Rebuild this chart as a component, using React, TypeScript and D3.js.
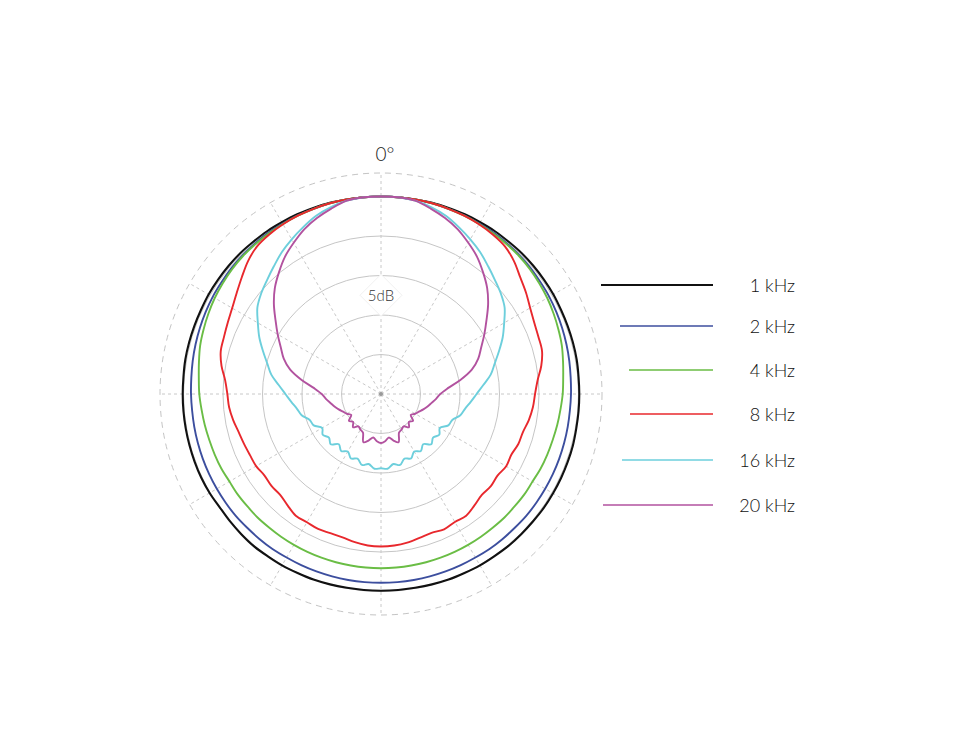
import React from "react";
import * as d3 from "d3";

// ---------- data ----------
// Angles in degrees, clockwise from 0° (front, top), every 5°
const ANGLES: number[] = d3.range(0, 360, 5);

// Level in dB relative to 0° (0 dB = outer solid ring), one value per angle
const SERIES_NAMES = ["1 kHz", "2 kHz", "4 kHz", "8 kHz", "16 kHz", "20 kHz"];

const DB_1K = [
  0, 0, 0, 0.05, 0.05, 0.1, 0.1, 0.15, 0.15, 0.2, 0.2, 0.2, 0.2, 0.15, 0.15, 0.15, 0.15, 0.1, 0.1,
  0.1, 0.1, 0.15, 0.15, 0.15, 0.15, 0.15, 0.1, 0.1, 0.1, 0.05, 0.05, 0, 0, -0.05, -0.1, -0.1, -0.1,
  -0.1, -0.1, -0.05, 0, 0, 0.05, 0.05, 0.1, 0.05, 0, -0.05, 0.05, 0.1, 0.1, 0.1, 0.1, 0.1, 0.1,
  0.1, 0.15, 0.15, 0.15, 0.15, 0.2, 0.2, 0.2, 0.2, 0.15, 0.15, 0.1, 0.1, 0.05, 0.05, 0, 0,
];
const DB_2K = [
  0, 0, 0, 0, -0.05, -0.05, -0.1, -0.1, -0.15, -0.2, -0.25, -0.35, -0.4, -0.5, -0.6, -0.7, -0.8, -0.9, -0.95,
  -1.0, -1.0, -1.0, -1.0, -1.0, -1.0, -1.0, -1.0, -1.05, -1.05, -1.05, -1.1, -1.1, -1.1, -1.1, -1.1, -1.1, -1.1,
  -1.1, -1.1, -1.1, -1.1, -1.1, -1.1, -1.05, -1.05, -1.05, -1.0, -1.0, -1.0, -1.0, -1.0, -1.0, -1.0, -1.0,
  -0.95, -0.9, -0.8, -0.7, -0.6, -0.5, -0.4, -0.35, -0.25, -0.2, -0.15, -0.1, -0.1, -0.05, -0.05, 0, 0, 0,
];
const DB_4K = [
  0, 0, 0, 0, -0.05, -0.1, -0.15, -0.2, -0.25, -0.3, -0.4, -0.55, -0.7, -0.9, -1.1, -1.3, -1.6, -1.85, -2.0,
  -2.2, -2.35, -2.5, -2.6, -2.7, -2.85, -2.85, -2.9, -2.9, -2.95, -2.95, -2.95, -2.95, -2.95, -2.95, -2.95, -2.95, -2.95,
  -2.95, -2.95, -2.95, -2.95, -2.95, -2.95, -2.95, -2.95, -2.9, -2.9, -2.85, -2.85, -2.7, -2.6, -2.5, -2.35, -2.2,
  -2.0, -1.85, -1.6, -1.3, -1.1, -0.9, -0.7, -0.55, -0.4, -0.3, -0.25, -0.2, -0.15, -0.1, -0.05, 0, 0, 0,
];
const DB_8K = [
  0, 0, 0, 0, -0.05, -0.1, -0.2, -0.35, -0.6, -1.2, -2.0, -2.6, -3.2, -3.6, -3.8, -3.9, -4.4, -5.1, -5.5,
  -5.7, -6.0, -6.4, -6.5, -6.8, -6.7, -7.0, -6.85, -6.95, -6.6, -6.2, -6.3, -6.1, -6.3, -6.15, -5.9, -5.75, -5.7,
  -5.75, -5.95, -6.2, -6.25, -6.15, -6.25, -6.2, -6.6, -6.95, -6.9, -7.0, -6.75, -6.7, -6.55, -6.35, -6.0, -5.7,
  -5.55, -5.2, -4.5, -4.0, -3.85, -3.6, -3.25, -2.7, -2.0, -1.2, -0.6, -0.35, -0.2, -0.1, -0.05, 0, 0, 0,
];
const DB_16K = [
  0, 0, -0.15, -0.5, -1.0, -1.7, -2.4, -3.1, -3.9, -4.6, -5.2, -5.9, -7.0, -8.0, -9.1, -10.1, -10.9, -12.0, -12.9,
  -13.6, -14.2, -14.6, -15.4, -15.6, -16.4, -16.0, -16.4, -16.0, -16.7, -16.2, -16.6, -16.0, -16.3, -15.7, -16.0, -15.5, -15.6,
  -15.5, -16.0, -15.7, -16.3, -16.0, -16.6, -16.2, -16.7, -16.0, -16.4, -16.0, -16.4, -15.6, -15.4, -14.6, -14.2, -13.6,
  -12.9, -12.0, -10.9, -10.1, -9.1, -8.0, -7.0, -5.9, -5.2, -4.6, -3.9, -3.1, -2.4, -1.7, -1.0, -0.5, -0.15, 0,
];
const DB_20K = [
  0, 0, -0.15, -0.7, -1.3, -2.0, -2.9, -3.8, -4.9, -6.0, -7.3, -8.7, -9.9, -11.0, -11.9, -13.1, -14.8, -16.5, -17.5,
  -18.0, -18.5, -18.9, -19.3, -19.7, -20.0, -20.4, -19.7, -20.0, -19.5, -20.0, -19.8, -19.6, -18.5, -18.9, -19.4, -19.0, -18.8,
  -19.0, -19.4, -18.9, -18.5, -19.6, -19.8, -20.0, -19.5, -20.0, -19.7, -20.4, -20.0, -19.7, -19.3, -18.9, -18.5, -18.0,
  -17.5, -16.5, -14.8, -13.1, -11.9, -11.0, -9.9, -8.7, -7.3, -6.0, -4.9, -3.8, -2.9, -2.0, -1.3, -0.7, -0.15, 0,
];

const SERIES_VALUES = [DB_1K, DB_2K, DB_4K, DB_8K, DB_16K, DB_20K];

const RING_DB = [-20, -15, -10, -5, 0];
const SPOKE_ANGLES = d3.range(0, 360, 30);
const RING_LABEL = "5dB";
const ANGLE_LABEL = "0°";

// ---------- styles / layout ----------
const COLORS = ["#111111", "#3c4e9e", "#6abd45", "#e8282d", "#6dcfdc", "#b2529f"];
const WIDTHS = [2.1, 1.9, 1.9, 1.9, 1.9, 1.9];
const LEGEND_X1 = [601, 620, 629, 630, 622, 603];
const LEGEND_Y = [285, 326, 370, 414, 460, 505];

const CX = 381;
const CY = 394;
const R0 = 197.5; // radius of 0 dB
const R_OUTER = 221;
const FONT = "Lato, 'Open Sans', 'DejaVu Sans', sans-serif";

export default function App() {
  const r = d3.scaleLinear().domain([-25, 0]).range([0, R0]);
  const toRad = (deg: number) => (deg * Math.PI) / 180;

  const line = d3
    .lineRadial<number>()
    .angle((_, i) => toRad(ANGLES[i]))
    .radius((d) => r(d))
    .curve(d3.curveCatmullRomClosed.alpha(0.5));

  const labelR = (r(-10) + r(-15)) / 2;

  return (
    <svg
      width={975}
      height={750}
      style={{ position: "absolute", left: 0, top: 0, background: "#fff" }}
    >
      <g transform={`translate(${CX},${CY})`}>
        {/* outer dashed circle */}
        <circle r={R_OUTER} fill="none" stroke="#c4c4c4" strokeWidth={1} strokeDasharray="6,5" />
        {/* spokes */}
        {SPOKE_ANGLES.map((a) => (
          <line
            key={a}
            x1={0}
            y1={0}
            x2={R_OUTER * Math.sin(toRad(a))}
            y2={-R_OUTER * Math.cos(toRad(a))}
            stroke="#c8c8c8"
            strokeWidth={1}
            strokeDasharray="3,3"
          />
        ))}
        {/* rings */}
        {RING_DB.map((d) => (
          <circle key={d} r={r(d)} fill="none" stroke="#c6c6c6" strokeWidth={1} />
        ))}
        <circle r={2} fill="#999" />
        {/* 5dB label */}
        <polygon
          points={`0,${-labelR - 21} 21,${-labelR} 0,${-labelR + 21} -21,${-labelR}`}
          fill="#fff"
          stroke="#f1f1f1"
          strokeWidth={1}
        />
        <text
          x={0}
          y={-labelR + 6}
          textAnchor="middle"
          fontFamily={FONT}
          fontWeight={300}
          fontSize={15}
          fill="#333"
        >
          {RING_LABEL}
        </text>
        {/* curves */}
        {SERIES_VALUES.map((vals, i) => (
          <path
            key={SERIES_NAMES[i]}
            d={line(vals) || ""}
            fill="none"
            stroke={COLORS[i]}
            strokeWidth={WIDTHS[i]}
            strokeLinejoin="round"
          />
        ))}
      </g>
      <text
        x={CX + 4}
        y={161}
        textAnchor="middle"
        fontFamily={FONT}
        fontWeight={300}
        fontSize={19}
        fill="#222"
      >
        {ANGLE_LABEL}
      </text>
      {/* legend */}
      {SERIES_NAMES.map((name, i) => (
        <g key={name}>
          <line
            x1={LEGEND_X1[i]}
            x2={713}
            y1={LEGEND_Y[i]}
            y2={LEGEND_Y[i]}
            stroke={COLORS[i]}
            strokeWidth={i === 0 ? 2 : 1.7}
          />
          <text
            x={795}
            y={LEGEND_Y[i] + 6.5}
            textAnchor="end"
            fontFamily={FONT}
            fontWeight={300}
            fontSize={18}
            fill="#111"
          >
            {name}
          </text>
        </g>
      ))}
    </svg>
  );
}
